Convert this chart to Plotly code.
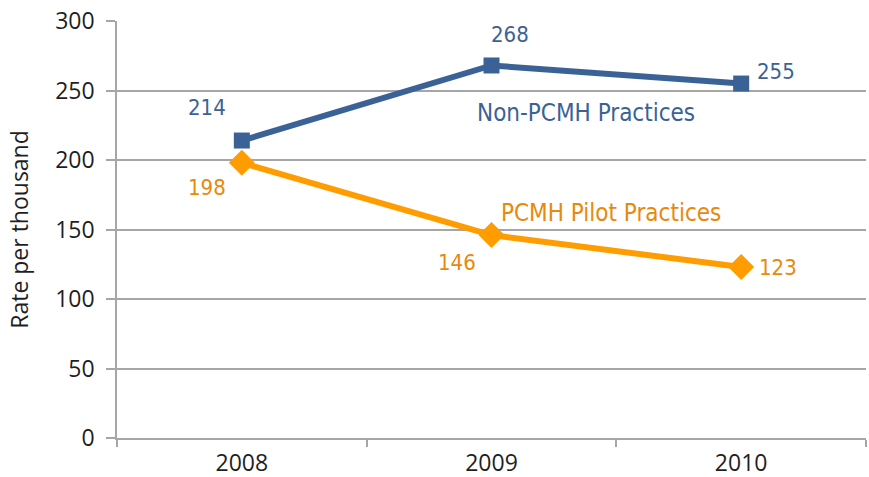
import plotly.graph_objects as go

years = ["2008", "2009", "2010"]
non_pcmh = [214, 268, 255]
pcmh_pilot = [198, 146, 123]
y_ticks = [0, 50, 100, 150, 200, 250, 300]

blue = "#3B6296"
orange_line = "#FF9C00"
orange_text = "#E8890C"
grid = "#A6A6A6"

fig = go.Figure()
fig.add_trace(go.Scatter(
    x=years, y=non_pcmh, mode="lines+markers", name="Non-PCMH Practices",
    line=dict(color=blue, width=6),
    marker=dict(symbol="square", size=16, color=blue),
))
fig.add_trace(go.Scatter(
    x=years, y=pcmh_pilot, mode="lines+markers", name="PCMH Pilot Practices",
    line=dict(color=orange_line, width=6),
    marker=dict(symbol="diamond", size=20, color=orange_line),
))

label_font = "DejaVu Sans Condensed, DejaVu Sans, sans-serif"
blue_offsets = [(-35, 33), (18, 31), (35, 12)]
orange_offsets = [(-35, -25), (-35, -27), (37, 0)]
for i, (v, (dx, dy)) in enumerate(zip(non_pcmh, blue_offsets)):
    fig.add_annotation(x=i, y=v, text=str(v), showarrow=False, xshift=dx, yshift=dy,
                       font=dict(family=label_font, size=22, color=blue))
for i, (v, (dx, dy)) in enumerate(zip(pcmh_pilot, orange_offsets)):
    fig.add_annotation(x=i, y=v, text=str(v), showarrow=False, xshift=dx, yshift=dy,
                       font=dict(family=label_font, size=22, color=orange_text))

fig.add_annotation(x=1.38, y=234, text="Non-PCMH Practices", showarrow=False,
                   font=dict(family=label_font, size=24, color=blue))
fig.add_annotation(x=1.48, y=162, text="PCMH Pilot Practices", showarrow=False,
                   font=dict(family=label_font, size=24, color=orange_text))

tick_font = dict(family="Open Sans, sans-serif", size=23, color="#1f1f1f")
fig.update_layout(
    width=869, height=477,
    margin=dict(l=117, r=3, t=21, b=39),
    paper_bgcolor="white", plot_bgcolor="white",
    showlegend=False,
    xaxis=dict(
        type="category", range=[-0.5, 2.5], tickson="boundaries",
        ticks="outside", ticklen=7, tickwidth=1.5, tickcolor=grid,
        showline=True, linecolor=grid, linewidth=1.5,
        showgrid=False, tickfont=tick_font, automargin=False,
        ticklabelstandoff=4,
    ),
    yaxis=dict(
        range=[0, 300], tickvals=y_ticks, ticks="outside", ticklen=9,
        tickwidth=1.5, tickcolor=grid,
        showline=True, linecolor=grid, linewidth=1.5,
        showgrid=True, gridcolor=grid, gridwidth=1.5, zeroline=False,
        tickfont=tick_font, automargin=False, ticklabelstandoff=7,
        title=dict(text="Rate per thousand", font=tick_font, standoff=20),
    ),
)
fig.write_html(
    "out.html",
    config={"displayModeBar": False},
    post_script="document.body.style.margin='0';document.body.style.overflow='hidden';",
)
